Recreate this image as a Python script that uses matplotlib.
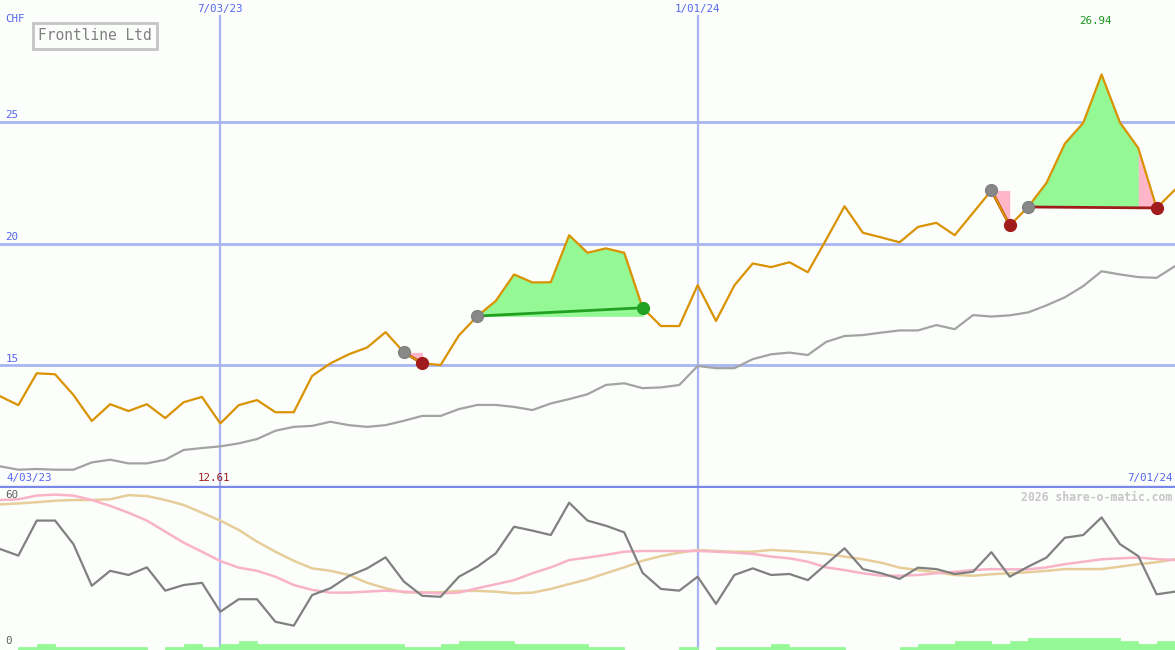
import matplotlib
matplotlib.use("Agg")
import matplotlib.pyplot as plt
import numpy as np

# weekly closing price (CHF) and its moving average
price = [13.73, 13.36, 14.67, 14.63, 13.78, 12.71, 13.40, 13.12, 13.40, 12.83,
         13.48, 13.70, 12.61, 13.36, 13.57, 13.07, 13.07, 14.56, 15.08, 15.45,
         15.73, 16.36, 15.53, 15.08, 15.01, 16.23, 17.02, 17.64, 18.73, 18.40,
         18.41, 20.34, 19.62, 19.80, 19.62, 17.36, 16.61, 16.61, 18.29, 16.82,
         18.28, 19.18, 19.03, 19.23, 18.82, 20.16, 21.53, 20.44, 20.25, 20.05,
         20.68, 20.85, 20.34, 21.26, 22.18, 20.74, 21.50, 22.49, 24.10, 24.95,
         26.94, 24.97, 23.92, 21.46, 22.21]
moving_avg = [10.85, 10.71, 10.74, 10.71, 10.71, 11.01, 11.12, 10.97, 10.97, 11.12,
              11.52, 11.60, 11.67, 11.79, 11.97, 12.31, 12.47, 12.51, 12.68, 12.54,
              12.47, 12.54, 12.72, 12.92, 12.92, 13.20, 13.37, 13.37, 13.29, 13.16,
              13.43, 13.61, 13.81, 14.19, 14.26, 14.06, 14.09, 14.19, 14.97, 14.88,
              14.88, 15.25, 15.45, 15.52, 15.42, 15.96, 16.20, 16.24, 16.34, 16.43,
              16.43, 16.65, 16.48, 17.06, 17.00, 17.05, 17.17, 17.46, 17.79, 18.25,
              18.86, 18.73, 18.62, 18.59, 19.07]

# lower panel oscillator and its two smoothed lines
osc = [40.0, 37.3, 51.6, 51.6, 42.0, 25.0, 31.1, 29.4, 32.5, 23.0,
       25.3, 26.2, 14.4, 19.5, 19.5, 10.3, 8.7, 21.2, 24.0, 29.0,
       32.1, 36.6, 26.7, 20.9, 20.5, 28.7, 32.8, 38.2, 49.1, 47.5,
       45.7, 58.9, 51.6, 49.5, 46.8, 30.3, 23.7, 23.0, 28.7, 17.6,
       29.4, 32.1, 29.4, 29.8, 27.3, 33.8, 40.3, 31.8, 30.1, 27.8,
       32.4, 31.8, 29.8, 30.7, 38.7, 28.7, 32.8, 36.5, 44.6, 45.7,
       52.9, 42.0, 37.1, 21.5, 22.6]
osc_fast = [60.0, 60.3, 61.8, 62.2, 61.8, 60.0, 57.6, 54.8, 51.6, 47.1,
            42.6, 38.9, 35.1, 32.4, 31.1, 28.7, 25.3, 23.3, 22.2, 22.2,
            22.6, 23.0, 22.6, 22.2, 21.9, 22.2, 24.0, 25.6, 27.3, 30.1,
            32.5, 35.5, 36.5, 37.6, 38.9, 39.2, 39.2, 39.2, 39.2, 38.9,
            38.5, 38.0, 36.9, 36.2, 34.8, 32.5, 31.4, 30.1, 29.1, 29.1,
            29.4, 30.1, 30.7, 31.4, 31.8, 31.7, 31.7, 32.5, 33.8, 34.8,
            35.8, 36.2, 36.5, 35.9, 35.5]
osc_slow = [58.2, 58.6, 59.1, 59.7, 60.0, 60.0, 60.3, 62.0, 61.6, 60.0,
            58.0, 54.8, 51.6, 47.8, 43.0, 38.9, 35.2, 32.1, 31.1, 29.4,
            26.2, 24.0, 22.3, 22.3, 22.3, 22.9, 22.9, 22.6, 21.9, 22.2,
            23.7, 25.7, 27.6, 30.1, 32.5, 35.2, 37.1, 38.5, 39.6, 39.2,
            38.9, 38.9, 39.6, 39.2, 38.7, 38.0, 36.9, 35.8, 34.4, 32.4,
            31.4, 30.5, 29.4, 29.1, 29.7, 30.1, 30.5, 31.1, 31.8, 31.8,
            31.8, 32.8, 33.8, 34.6, 35.8]
# volume level per week (0-4)
volume = [0, 1, 2, 1, 1, 1, 1, 1, 0, 1, 2, 1, 2, 3, 2, 2, 2, 2, 2, 2,
          2, 2, 1, 1, 2, 3, 3, 3, 2, 2, 2, 2, 1, 1, 0, 0, 0, 1, 0, 1,
          1, 1, 2, 1, 1, 1, 0, 0, 0, 1, 2, 2, 3, 3, 2, 3, 4, 4, 4, 4,
          4, 3, 2, 3]

# trades: entry week, exit week
entries = [22, 26, 54, 56]
exits = [23, 35, 55, 63]

date_idx = [12, 38]
date_labels = ["7/03/23", "1/01/24"]
first_date, last_date = "4/03/23", "7/01/24"
price_levels = [15, 20, 25]

BG = "#fbfefb"
GRID = "#a9b5f2"
BLUE = "#5566ee"
GREEN_FILL = "#94f894"
PINK = "#ffb6c8"
MONO = "DejaVu Sans Mono"
FS = 7.8

W, H = 1175, 650
fig = plt.figure(figsize=(W / 100, H / 100), dpi=100, facecolor=BG)
ax = fig.add_axes([0, 163 / H, 1, 487 / H], facecolor=BG)
ax2 = fig.add_axes([0, 0, 1, 162 / H], facecolor=BG)

x = np.arange(len(price))
p = np.array(price)
n = len(price) - 1

for a in (ax, ax2):
    a.set_xlim(0, n)
    a.set_xticks([])
    a.set_yticks([])
    for s in a.spines.values():
        s.set_visible(False)

ax.set_ylim(10, 30)
ax2.set_ylim(-1.22, 64.9)

# grid
for lv in price_levels:
    ax.axhline(lv, color=GRID, lw=2, zorder=1)
    ax.text(0.3, lv + 0.06, str(lv), color=BLUE, fontsize=FS, family=MONO,
            va="bottom", ha="left")
for i, lab in zip(date_idx, date_labels):
    ax.axvline(i, ymax=0.967, color=GRID, lw=1.6, zorder=1)
    ax2.axvline(i, color=GRID, lw=1.6, zorder=1)
    ax.text(i, 29.65, lab, color=BLUE, fontsize=FS, family=MONO,
            ha="center", va="center")
ax.axhline(10, color="#7a88ea", lw=2.4, zorder=5, clip_on=False)
ax.text(0.3, 29.2, "CHF", color=BLUE, fontsize=FS, family=MONO, va="center")

# trade shading: green while held, last week pink if the trade lost
for e, xo in zip(entries, exits):
    win = p[xo] > p[e]
    split = xo if win else xo - 1
    if split > e:
        xs = x[e:split + 1]
        ax.fill_between(xs, p[e:split + 1], p[e], color=GREEN_FILL, lw=0.5,
                        ec=GREEN_FILL, zorder=2)
    if not win:
        xs = x[xo - 1:xo + 1]
        ax.fill_between(xs, p[xo - 1:xo + 1], p[e], color=PINK, lw=0,
                        zorder=2)
    ax.plot([e, xo], [p[e], p[xo]], color="#22a022" if win else "#a01c1c",
            lw=2, zorder=3)

ax.plot(x, moving_avg, color="#a3a3a3", lw=1.6, zorder=3)
ax.plot(x, p, color="#d99200", lw=1.6, zorder=4)

for e, xo in zip(entries, exits):
    win = p[xo] > p[e]
    ax.plot(e, p[e], "o", ms=8.5, color="#888888", mec="#808080", zorder=6)
    ax.plot(xo, p[xo], "o", ms=8.5, color="#22a022" if win else "#a01c1c",
            zorder=6)

# high / low labels
hi, lo = int(np.argmax(p)), int(np.argmin(p))
ax.text(hi - 0.35, 29.15, f"{p[hi]:.2f}", color="#1a961a", fontsize=FS,
        family=MONO, ha="center", va="center")
ax.text(lo - 0.35, 10.35, f"{p[lo]:.2f}", color="#a01c1c", fontsize=FS,
        family=MONO, ha="center", va="center")
ax.text(0.38, 10.35, first_date, color=BLUE, fontsize=FS, family=MONO,
        ha="left", va="center")
ax.text(n - 0.15, 10.35, last_date, color=BLUE, fontsize=FS, family=MONO,
        ha="right", va="center")

fig.text(95 / W, 1 - 36 / H, "Frontline Ltd", color="#808080", fontsize=10.5,
         family=MONO, ha="center", va="center",
         bbox=dict(boxstyle="square,pad=0.35", fc=BG, ec="#c4c4c4", lw=2))

# lower panel
ax2.bar(np.arange(len(volume)) + 0.5, np.array(volume) * 1.25, width=1.0,
        bottom=-1.22, color=GREEN_FILL, lw=0.5, ec=GREEN_FILL, zorder=2)
ax2.plot(x, osc_slow, color="#e6cd9a", lw=1.8, zorder=3)
ax2.plot(x, osc_fast, color="#f9b3c9", lw=1.8, zorder=3)
ax2.plot(x, osc, color="#808080", lw=1.6, zorder=4)
ax2.text(0.3, 60.2, "60", color="#606060", fontsize=FS, family=MONO,
         va="bottom", ha="left")
ax2.text(0.3, 0.3, "0", color="#606060", fontsize=FS, family=MONO,
         va="bottom", ha="left")
ax2.text(n - 0.15, 61.0, "2026 share-o-matic.com", color="#c6c6c6",
         fontsize=8.3, family=MONO, weight="bold", ha="right", va="center")

fig.savefig("out.png", dpi=100, facecolor=BG)
